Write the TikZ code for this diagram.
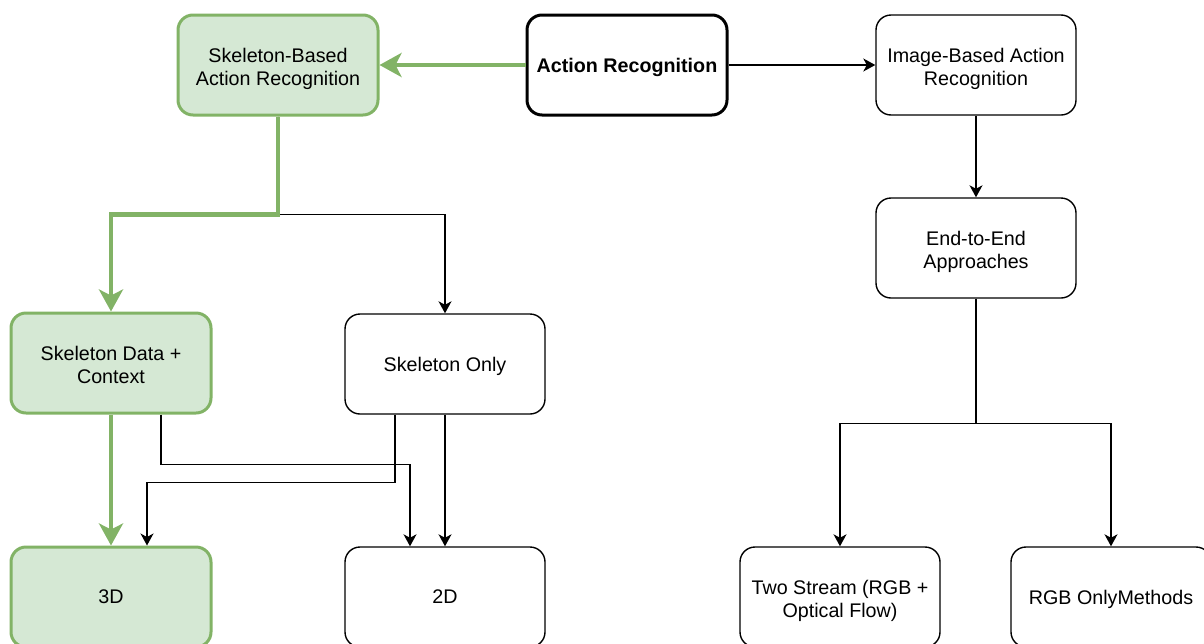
\documentclass[tikz,border=0pt]{standalone}
\usepackage{fontspec}
\setmainfont{Liberation Sans}
\usetikzlibrary{arrows.meta}
\definecolor{gfill}{HTML}{D5E8D4}
\definecolor{gline}{HTML}{82B366}
\begin{document}
\begin{tikzpicture}[x=1pt,y=-1pt,
  box/.style={draw=black,line width=1.4pt,fill=white,rounded corners=15pt,
    minimum width=200pt,minimum height=100pt,inner sep=0pt,align=center,
    text depth=0pt,font=\fontsize{19.7}{23}\selectfont},
  twoline/.style={text height=41.5pt},
  gbox/.style={box,draw=gline,fill=gfill,line width=3pt},
  rootbox/.style={box,line width=3pt,font=\fontsize{19.7}{23}\selectfont\bfseries},
  link/.style={line width=1.4pt,-{Stealth[length=12pt,width=13pt,inset=3.5pt]}},
  glink/.style={line width=4.5pt,draw=gline,-{Stealth[length=22pt,width=24pt,inset=6pt,fill=gline]}}]
\useasboundingbox (0,0) rectangle (1204,643);
\clip (0,0) rectangle (1204,643);

% boxes
\node[gbox,twoline] (sbar) at (278,65)  {Skeleton-Based\\Action Recognition};
\node[rootbox]      (ar)   at (627,65)  {Action Recognition};
\node[box,twoline]  (ibar) at (976,65)  {Image-Based Action\\Recognition};
\node[box,twoline]  (e2e)  at (976,248) {End-to-End\\Approaches};
\node[gbox,twoline] (sdc)  at (111,363) {Skeleton Data +\\Context};
\node[box]          (so)   at (445,364) {Skeleton Only};
\node[gbox]         (d3)   at (111,597) {3D};
\node[box]          (d2)   at (445,597) {2D};
\node[box,twoline]  (ts)   at (840,597) {Two Stream (RGB +\\Optical Flow)};
\node[box]          (rgb)  at (1111,597) {RGB OnlyMethods};

% right branch
\draw[link] (ar.east) -- (ibar.west);
\draw[link] (ibar.south) -- (e2e.north);
\draw[link] (e2e.south) -- ++(0,125) -| (ts.north);
\draw[link] (e2e.south) -- ++(0,125) -| (rgb.north);

% skeleton branch
\draw[link] (sbar.south) -- ++(0,98) -| (so.north);
\draw[link] ([xshift=50pt]sdc.south) -- ++(0,50) -| ([xshift=-35pt]d2.north);
\draw[link] ([xshift=-50pt]so.south) -- ++(0,68) -| ([xshift=36pt]d3.north);
\draw[link] (so.south) -- (d2.north);

% highlighted path
\draw[glink] (ar.west) -- (sbar.east);
\draw[glink] (sbar.south) -- ++(0,98) -| (sdc.north);
\draw[glink] (sdc.south) -- (d3.north);
\end{tikzpicture}
\end{document}
